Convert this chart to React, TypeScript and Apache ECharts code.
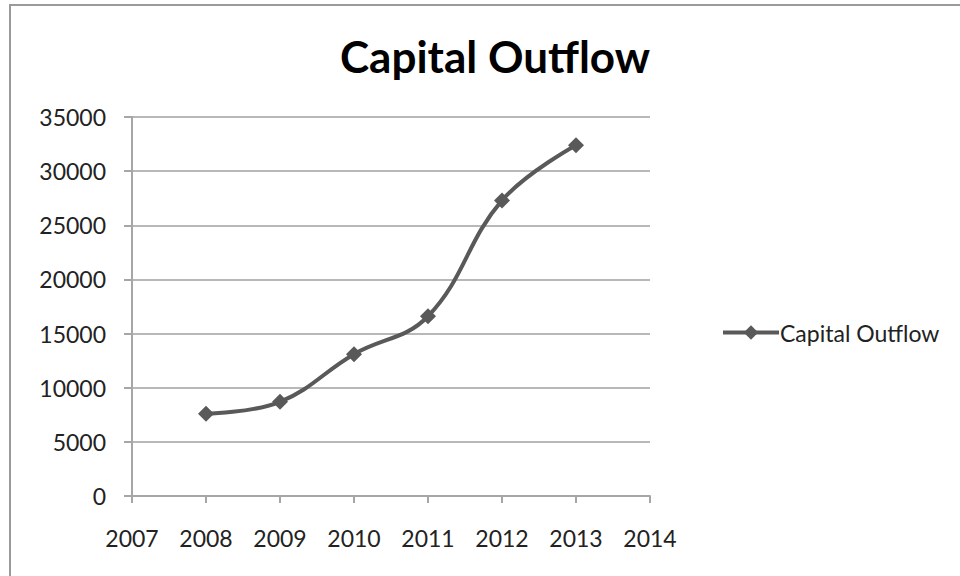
import React, { useEffect, useRef } from "react";
import * as echarts from "echarts";

const years: number[] = [2008, 2009, 2010, 2011, 2012, 2013];
const outflow: number[] = [7600, 8700, 13100, 16600, 27300, 32400];
const seriesName = "Capital Outflow";
const titleText = "Capital Outflow";

export default function App() {
  const ref = useRef<HTMLDivElement>(null);
  useEffect(() => {
    if (!ref.current) return;
    const chart = echarts.init(ref.current, undefined, { renderer: "svg" });
    const font = "Lato, 'Open Sans', sans-serif";
    chart.setOption({
      animation: false,
      backgroundColor: "#ffffff",
      title: {
        text: titleText,
        left: 490,
        top: 29,
        textAlign: "center",
        textStyle: { fontFamily: font, fontWeight: "bold", fontSize: 44, color: "#000" },
      },
      graphic: [
        {
          type: "rect",
          shape: { x: 10, y: 5, width: 1000, height: 700 },
          style: { fill: "none", stroke: "#9a9a9a", lineWidth: 2 },
          silent: true,
        },
      ],
      legend: {
        left: 716,
        top: 316,
        itemWidth: 56,
        itemHeight: 18,
        itemGap: 4,
        textStyle: { fontFamily: font, fontSize: 23, color: "#222", padding: [0, 0, 0, -4] },
        lineStyle: { width: 4, color: "#595959" },
        itemStyle: { color: "#595959" },
        data: [seriesName],
      },
      grid: { left: 132, right: 310, top: 117, bottom: 80, containLabel: false },
      xAxis: {
        type: "value",
        min: 2007,
        max: 2014,
        interval: 1,
        axisLine: { show: true, onZero: false, lineStyle: { color: "#a6a6a6", width: 2 } },
        axisTick: { show: true, length: 7, lineStyle: { color: "#a6a6a6", width: 2 } },
        splitLine: { show: false },
        axisLabel: { margin: 30, fontFamily: font, fontSize: 23, color: "#222", formatter: (v: number) => String(v) },
      },
      yAxis: {
        type: "value",
        min: 0,
        max: 35000,
        interval: 5000,
        axisLine: { show: true, lineStyle: { color: "#a6a6a6", width: 2 } },
        axisTick: { show: true, length: 8, lineStyle: { color: "#a6a6a6", width: 2 } },
        splitLine: { show: true, lineStyle: { color: "#b8b8b8", width: 2 } },
        axisLabel: { margin: 26, fontFamily: font, fontSize: 23, color: "#222", formatter: (v: number) => String(v) },
      },
      series: [
        {
          name: seriesName,
          type: "line",
          smooth: 0.4,
          data: years.map((y, i) => [y, outflow[i]]),
          symbol: "diamond",
          symbolSize: 16,
          lineStyle: { color: "#595959", width: 4 },
          itemStyle: { color: "#595959" },
        },
      ],
    });
    return () => chart.dispose();
  }, []);
  return (
    <div
      ref={ref}
      style={{ position: "fixed", left: 0, top: 0, width: 960, height: 576 }}
    />
  );
}
